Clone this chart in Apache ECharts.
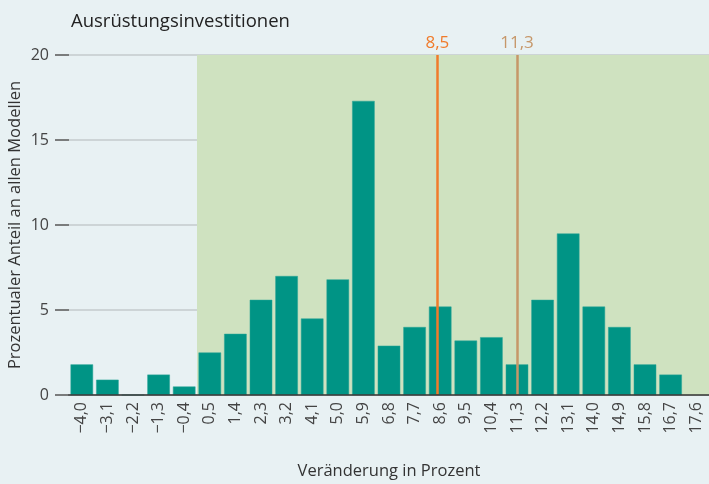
<!DOCTYPE html>
<html><head><meta charset="utf-8">
<script src="https://cdn.jsdelivr.net/npm/echarts@6/dist/echarts.min.js"></script>
<style>html,body{margin:0;padding:0;background:#e8f1f3;}#c{width:709px;height:484px;}</style>
</head><body><div id="c"></div>
<script>
const categories = ['\u22124,0','\u22123,1','\u22122,2','\u22121,3','\u22120,4','0,5','1,4','2,3','3,2','4,1','5,0','5,9','6,8','7,7','8,6','9,5','10,4','11,3','12,2','13,1','14,0','14,9','15,8','16,7','17,6'];
const shares = [1.8,0.9,0,1.2,0.5,2.5,3.6,5.6,7.0,4.5,6.8,17.3,2.9,4.0,5.2,3.2,3.4,1.8,5.6,9.5,5.2,4.0,1.8,1.2,null];
const yTicks = [0,5,10,15,20];
const markers = [{value:8.5,label:'8,5',color:'#f07b2b'},{value:11.3,label:'11,3',color:'#c69769'}];
const shadeFrom = 0.05;
const xMin = -4.45, xMax = 18.05;

const chart = echarts.init(document.getElementById('c'));
const font = "'Open Sans', 'Noto Sans', sans-serif";
chart.setOption({
  backgroundColor:'#e8f1f3',
  animation:false,
  title:{text:'Ausrüstungsinvestitionen',left:66,top:7,textStyle:{fontFamily:font,fontSize:18.5,fontWeight:'normal',color:'#222'}},
  grid:{left:69,right:0,top:55,bottom:89,containLabel:false,outerBoundsMode:'none'},
  xAxis:[{
    type:'category',data:categories,
    axisTick:{show:false},
    axisLine:{lineStyle:{color:'#333',width:1.5}},
    axisLabel:{rotate:90,margin:7,fontFamily:font,fontSize:16,color:'#444'},
    name:'Veränderung in Prozent',nameLocation:'middle',nameGap:68,nameMoveOverlap:false,
    nameTextStyle:{fontFamily:font,fontSize:16.5,color:'#333'},
    z:5
  },{
    type:'value',min:xMin,max:xMax,show:false
  }],
  yAxis:{
    type:'value',min:yTicks[0],max:yTicks[yTicks.length-1],interval:5,
    axisLine:{show:false,onZero:false},
    axisTick:{show:true,length:14,lineStyle:{color:'#555',width:1.5}},
    axisLabel:{margin:20,fontFamily:font,fontSize:16,color:'#444'},
    splitLine:{lineStyle:{color:'#c5cacd',width:1.5}},
    name:'Prozentualer Anteil an allen Modellen',nameLocation:'middle',nameGap:45,nameMoveOverlap:false,
    nameTextStyle:{fontFamily:font,fontSize:16.5,color:'#333'}
  },
  series:[{
    type:'line',xAxisIndex:1,data:[],silent:true,z:1,
    markArea:{silent:true,itemStyle:{color:'#cfe2c0'},data:[[{xAxis:shadeFrom},{xAxis:xMax}]]}
  },{
    type:'bar',xAxisIndex:0,data:shares,barCategoryGap:'12%',
    itemStyle:{color:'#009485',borderColor:'#2aa596',borderWidth:0.5},z:3
  },{
    type:'line',xAxisIndex:1,data:[],silent:true,z:4,
    markLine:{silent:true,symbol:'none',animation:false,
      data:markers.map(m=>({xAxis:m.value,lineStyle:{color:m.color,width:2.5,type:'solid'},
        label:{show:true,position:'end',formatter:m.label,color:m.color,fontFamily:font,fontSize:17,distance:3}}))}
  }]
});
</script></body></html>
